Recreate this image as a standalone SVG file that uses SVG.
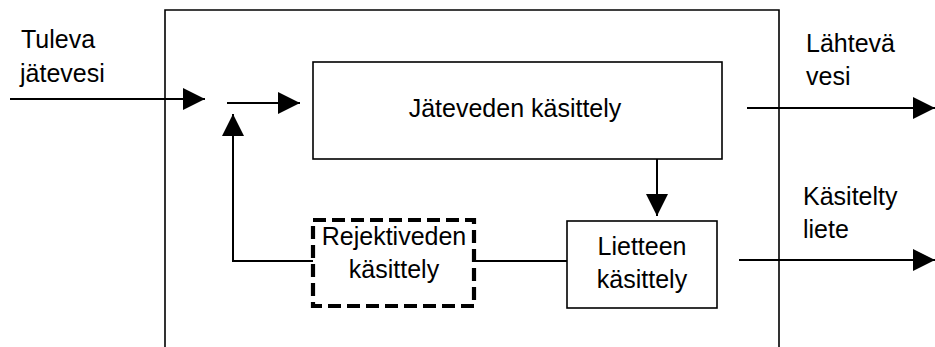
<svg xmlns="http://www.w3.org/2000/svg" width="935" height="347" viewBox="0 0 935 347">
<style>
text{font-family:"Liberation Sans",Arial,sans-serif;font-size:25px;fill:#000}
.c{text-anchor:middle}
.box{fill:#fff;stroke:#000;stroke-width:1.6}
.ln{fill:none;stroke:#000;stroke-width:2}
.ar{marker-end:url(#ah)}
</style>
<defs>
<marker id="ah" markerUnits="userSpaceOnUse" markerWidth="22" markerHeight="22" refX="22" refY="11" orient="auto">
<path d="M0,0 L22,11 L0,22 z" fill="#000"/>
</marker>
</defs>
<g id="system">
<path d="M165,347 V10 H779 V347" fill="none" stroke="#000" stroke-width="1.6"/>
</g>
<g id="connectors">
<line class="ln ar" x1="10" y1="99" x2="205" y2="99"/>
<line class="ln ar" x1="227" y1="103" x2="300" y2="103"/>
<polyline class="ln ar" points="313,261 233,261 233,114"/>
<line class="ln ar" x1="657" y1="159" x2="657" y2="216"/>
<line class="ln" x1="475" y1="261" x2="567" y2="261"/>
<line class="ln ar" x1="747" y1="108" x2="935" y2="108"/>
<line class="ln ar" x1="739" y1="260" x2="935" y2="260"/>
</g>
<g id="n-treatment">
<rect class="box" x="313" y="62" width="409" height="97"/>
<text class="c" x="515" y="117">Jäteveden käsittely</text>
</g>
<g id="n-sludge">
<rect class="box" x="567" y="221" width="150" height="87"/>
<text class="c" x="642" y="255">Lietteen</text>
<text class="c" x="642" y="288">käsittely</text>
</g>
<g id="n-reject">
<rect x="313" y="220" width="161" height="86" fill="#fff" stroke="#000" stroke-width="4.2" stroke-dasharray="13 6"/>
<text class="c" x="394" y="245">Rejektiveden</text>
<text class="c" x="394" y="278">käsittely</text>
</g>
<g id="labels">
<text x="21" y="48">Tuleva</text>
<text x="20" y="82">jätevesi</text>
<text x="806" y="52">Lähtevä</text>
<text x="806" y="85">vesi</text>
<text x="803" y="205">Käsitelty</text>
<text x="803" y="238">liete</text>
</g>
</svg>
